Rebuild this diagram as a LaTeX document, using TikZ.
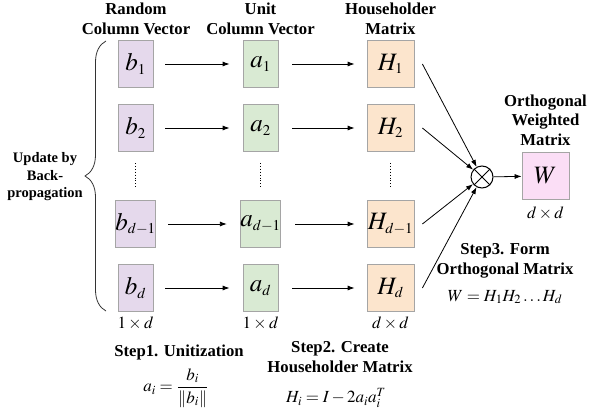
\documentclass[tikz,border=0pt]{standalone}
\usepackage{amsmath}
\usepackage{mathptmx}
\usepackage[no-math]{fontspec}
\setmainfont{Liberation Serif}
\usepackage{tikz}
\usetikzlibrary{arrows.meta,decorations.pathreplacing}

\definecolor{bfill}{RGB}{229,217,236}
\definecolor{afill}{RGB}{217,234,211}
\definecolor{hfill}{RGB}{252,229,205}
\definecolor{wfill}{RGB}{251,222,246}
\definecolor{edgegray}{RGB}{165,165,165}

\newcommand{\boxsub}[1]{_{\scriptscriptstyle #1}}

\tikzset{
  vecbox/.style={draw=edgegray,line width=0.8pt,minimum width=35pt,minimum height=47pt,inner sep=0pt,font=\fontsize{25}{29}\selectfont},
  matbox/.style={vecbox,minimum width=47pt},
  head/.style={font=\fontsize{16.7}{19.5}\selectfont\bfseries,align=center},
  dimlabel/.style={font=\fontsize{17}{20}\selectfont},
  formula/.style={font=\fontsize{17}{20}\selectfont},
  flow/.style={-{Latex[length=7pt,width=5pt]},line width=0.8pt},
  vdotline/.style={dotted,line width=0.9pt}
}

\begin{document}
\begin{tikzpicture}[x=1pt,y=-1pt]
  \useasboundingbox (0,0) rectangle (593,412);

  % column headers
  \node[head] (hb) at (136,19) {Random\\Column Vector};
  \node[head] (ha) at (260.5,19) {Unit\\Column Vector};
  \node[head] (hh) at (390.5,19) {Householder\\Matrix};
  \node[head] (hw) at (545.5,120) {Orthogonal\\Weighted\\Matrix};

  % random vectors
  \node[vecbox,fill=bfill] (b1) at (135.5,64) {$b\boxsub{1}$};
  \node[vecbox,fill=bfill] (b2) at (135.5,128) {$b\boxsub{2}$};
  \node[vecbox,fill=bfill] (bd1) at (135.5,224) {$b\boxsub{d-1}$};
  \node[vecbox,fill=bfill] (bd) at (135.5,288) {$b\boxsub{d}$};

  % unit vectors
  \node[vecbox,fill=afill] (a1) at (260.5,64) {$a\boxsub{1}$};
  \node[vecbox,fill=afill] (a2) at (260.5,128) {$a\boxsub{2}$};
  \node[vecbox,fill=afill] (ad1) at (260.5,224) {$a\boxsub{d-1}$};
  \node[vecbox,fill=afill] (ad) at (260.5,288) {$a\boxsub{d}$};

  % householder matrices
  \node[matbox,fill=hfill] (H1) at (390.5,64) {$H\boxsub{1}$};
  \node[matbox,fill=hfill] (H2) at (390.5,128) {$H\boxsub{2}$};
  \node[matbox,fill=hfill] (Hd1) at (390.5,224) {$H\boxsub{d-1}$};
  \node[matbox,fill=hfill] (Hd) at (390.5,288) {$H\boxsub{d}$};

  % product and result
  \node[circle,draw,line width=1pt,minimum size=22pt,inner sep=0pt] (prod) at (482,177) {};
  \draw[line width=1pt] (prod.45) -- (prod.225) (prod.135) -- (prod.315);
  \node[matbox,fill=wfill] (W) at (545.5,176) {$W$};

  % dots between rows
  \draw[vdotline] (135.5,163) -- (135.5,188);
  \draw[vdotline] (260.5,163) -- (260.5,188);
  \draw[vdotline] (390.5,163) -- (390.5,188);

  % arrows
  \draw[flow,shorten <=12pt,shorten >=13pt] (b1) -- (a1);
  \draw[flow,shorten <=12pt,shorten >=13pt] (b2) -- (a2);
  \draw[flow,shorten <=12pt,shorten >=13pt] (bd1) -- (ad1);
  \draw[flow,shorten <=12pt,shorten >=13pt] (bd) -- (ad);
  \draw[flow,shorten <=14pt,shorten >=12pt] (a1) -- (H1);
  \draw[flow,shorten <=14pt,shorten >=12pt] (a2) -- (H2);
  \draw[flow,shorten <=14pt,shorten >=12pt] (ad1) -- (Hd1);
  \draw[flow,shorten <=14pt,shorten >=12pt] (ad) -- (Hd);
  \draw[flow] ([xshift=8pt]H1.east) -- (prod);
  \draw[flow] ([xshift=8pt]H2.east) -- (prod);
  \draw[flow] ([xshift=8pt]Hd1.east) -- (prod);
  \draw[flow] ([xshift=8pt]Hd.east) -- (prod);
  \draw[flow] (prod) -- (W);

  % brace
  \draw[decorate,decoration={brace,amplitude=21pt},line width=0.8pt,draw=black!80] (106,311) -- (106,41);
  \node[font=\fontsize{14.5}{17.5}\selectfont\bfseries,align=center] (upd) at (45,177) {Update by\\Back-\\propagation};

  % sizes
  \node[dimlabel] (sb) at (135.5,323) {$1\times d$};
  \node[dimlabel] (sa) at (260.5,323) {$1\times d$};
  \node[dimlabel] (sh) at (390.5,323) {$d\times d$};
  \node[dimlabel] (sw) at (545.5,213) {$d\times d$};

  % steps
  \node[head] (s1) at (179,352) {Step1. Unitization};
  \node[formula] (f1) at (176,388) {$a_i=\dfrac{b_i}{\lVert b_i\rVert}$};
  \node[head] (s2) at (340,357) {Step2. Create\\Householder Matrix};
  \node[formula] (f2) at (336,398) {$H_i=I-2a_ia_i^T$};
  \node[head] (s3) at (505,261) {Step3. Form\\Orthogonal Matrix};
  \node[formula] (f3) at (505,297) {$W=H_1H_2\ldots H_d$};
\end{tikzpicture}
\end{document}
